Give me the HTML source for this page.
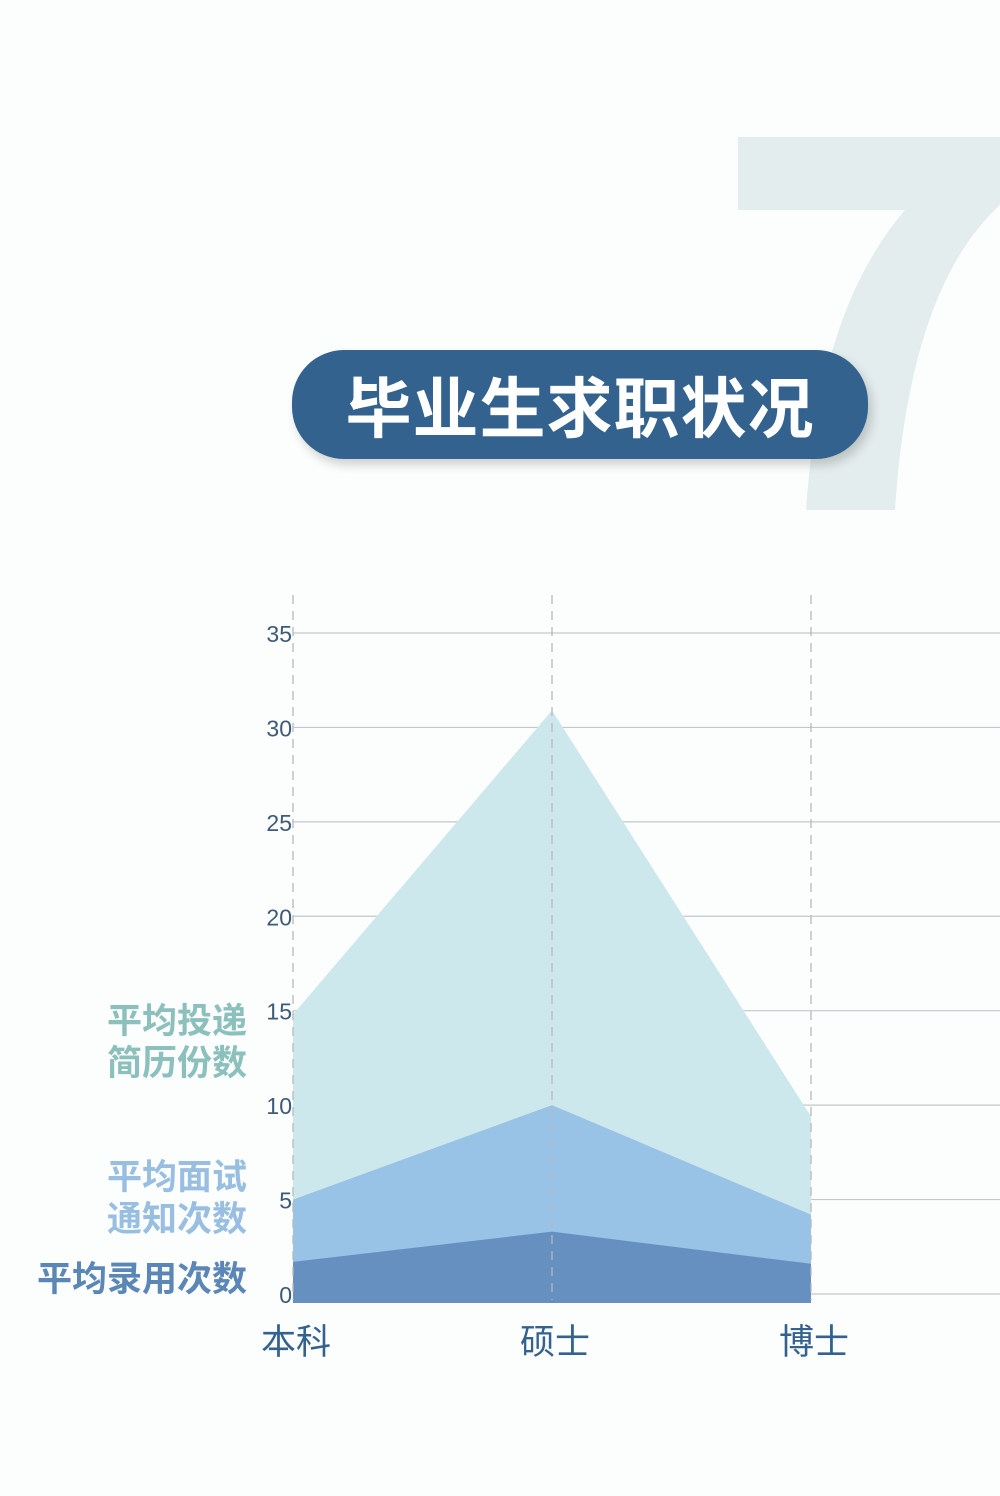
<!DOCTYPE html>
<html><head><meta charset="utf-8"><style>
body{margin:0;background:#fcfdfd;}
#wrap{position:relative;width:1000px;height:1496px;overflow:hidden;background:#fcfdfd;font-family:"Liberation Sans","Noto Sans CJK SC",sans-serif;}
</style></head><body>
<div id="wrap">
<svg width="1000" height="1496" style="position:absolute;left:0;top:0">
<path d="M738,137 L1000,137 L1000,205 C940,260 905,360 895,510 L806,510 C815,380 845,280 905,210 L738,210 Z" fill="#e4eded"/>
</svg>
<div style="position:absolute;left:292px;top:350px;width:576px;height:109px;border-radius:52px;background:#33628f;box-shadow:4px 6px 10px rgba(0,0,0,0.18);color:#fff;font-weight:bold;font-size:66px;line-height:109px;text-align:center;font-family:'Noto Sans CJK SC',sans-serif;letter-spacing:1px">毕业生求职状况</div>
<svg id="chart" width="1000" height="1496" style="position:absolute;left:0;top:0"></svg>
</div>
<script>
const categories=["本科","硕士","博士"];
const resumes=[14.8,30.9,9.4];
const interviews=[5,10,4.2];
const offers=[1.7,3.3,1.6];
const yTicks=[0,5,10,15,20,25,30,35];
const svg=document.getElementById('chart');
const NS='http://www.w3.org/2000/svg';
const x0=293,dx=259,yZero=1294,unit=18.886,base=1303;
const X=i=>x0+i*dx, Y=v=>yZero-v*unit;
function mk(t,a){const e=document.createElementNS(NS,t);for(const k in a)e.setAttribute(k,a[k]);svg.appendChild(e);return e;}
yTicks.forEach(t=>{
 const l=mk('line',{x1:293,x2:1000,y1:Y(t),y2:Y(t),stroke:'#c4c8cc','stroke-width':1.2});
 
 
 const tx=mk('text',{x:292,y:Y(t)+9,'text-anchor':'end',fill:'#3d5a78','font-size':23,'font-family':'Liberation Sans, sans-serif'});
 tx.textContent=t;
 
 
});
function area(vals,fill,name){
 let d='M'+X(0)+','+base;
 vals.forEach((v,i)=>d+=' L'+X(i)+','+Y(v));
 d+=' L'+X(vals.length-1)+','+base+' Z';
 const p=mk('path',{d:d,fill:fill});
 
 
}
area(resumes,'#cde8ec','area-resumes');
area(interviews,'#98c2e6','area-interviews');
area(offers,'#6690c0','area-offers');
categories.forEach((c,i)=>{
 const l=mk('line',{x1:X(i),x2:X(i),y1:595,y2:1300,stroke:'#b8b8bc','stroke-width':1.3,'stroke-dasharray':'9,7'});
 
 
 const t=mk('text',{x:X(i)+3,y:1354,'text-anchor':'middle',fill:'#33628f','font-size':35,'font-family':'Noto Sans CJK SC, sans-serif'});
 t.textContent=c;
 
 
});
const labels=[["平均投递",1033,'#8cc0bc'],["简历份数",1075,'#8cc0bc'],["平均面试",1189,'#98bfe2'],["通知次数",1231,'#98bfe2'],["平均录用次数",1291,'#5a87b6']];
labels.forEach((l,i)=>{
 const t=mk('text',{x:247,y:l[1],'text-anchor':'end',fill:l[2],'font-size':35,'font-weight':'bold','font-family':'Noto Sans CJK SC, sans-serif'});
 t.textContent=l[0];
 
 
});
</script>
</body></html>
